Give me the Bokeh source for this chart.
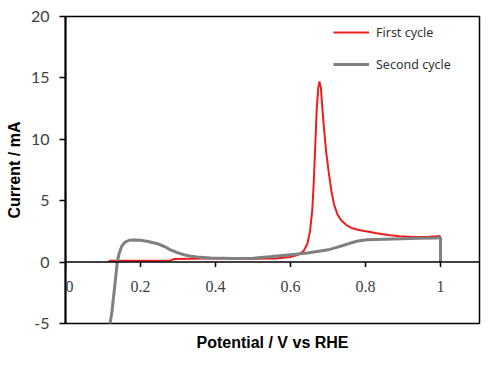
from bokeh.plotting import figure
from bokeh.models import Range1d, FixedTicker, Span, Legend, LegendItem, LabelSet, ColumnDataSource
from bokeh.embed import file_html
from bokeh.resources import INLINE
import math

# ---- data ----
first_x = [0.116, 0.118, 0.20, 0.28, 0.29, 0.38, 0.45, 0.50, 0.56, 0.60, 0.62, 0.635,
           0.645, 0.652, 0.658, 0.662, 0.666, 0.670, 0.674, 0.677, 0.681, 0.685, 0.689,
           0.695, 0.702, 0.709, 0.716, 0.725, 0.735, 0.750, 0.765, 0.785, 0.805, 0.83,
           0.86, 0.89, 0.93, 0.97, 0.99, 1.0]
first_y = [0.0, 0.12, 0.12, 0.14, 0.25, 0.30, 0.30, 0.27, 0.30, 0.42, 0.6, 0.9,
           1.5, 2.5, 4.2, 6.5, 9.5, 12.5, 14.2, 14.7, 14.2, 12.5, 11.0,
           9.0, 7.3, 5.8, 4.7, 3.9, 3.4, 3.0, 2.75, 2.6, 2.5, 2.35,
           2.2, 2.1, 2.05, 2.07, 2.1, 2.12]

second_x = [0.118, 0.124, 0.129, 0.134, 0.138, 0.143, 0.150, 0.158, 0.170, 0.185, 0.200,
            0.220, 0.245, 0.265, 0.28, 0.30, 0.316, 0.335, 0.351, 0.387, 0.45, 0.50,
            0.55, 0.60, 0.64, 0.671, 0.70, 0.716, 0.74, 0.76, 0.78, 0.804, 0.85, 0.90,
            0.94, 0.99, 1.0, 1.0]
second_y = [-5.2, -4.0, -2.6, -1.2, 0.0, 0.7, 1.3, 1.6, 1.78, 1.80, 1.78,
            1.68, 1.5, 1.25, 1.0, 0.75, 0.6, 0.48, 0.41, 0.33, 0.30, 0.32,
            0.45, 0.6, 0.72, 0.87, 1.0, 1.14, 1.35, 1.55, 1.72, 1.82, 1.87, 1.90,
            1.95, 1.97, 2.0, 0.0]

x_ticks = [0, 0.2, 0.4, 0.6, 0.8, 1.0]
x_tick_labels = ["0", "0.2", "0.4", "0.6", "0.8", "1"]
y_ticks = [-5, 0, 5, 10, 15, 20]
y_tick_labels = ["-5", "0", "5", "10", "15", "20"]

p = figure(width=484, height=353, output_backend="svg", toolbar_location=None,
           x_range=Range1d(0, 1.104), y_range=Range1d(-5, 20),
           min_border_left=65, min_border_right=5, min_border_top=16, min_border_bottom=29)
p.background_fill_color = "white"
p.border_fill_color = "white"
p.outline_line_color = "black"
p.outline_line_width = 1.5
p.grid.visible = False

# left axis
ya = p.yaxis[0]
ya.ticker = FixedTicker(ticks=y_ticks)
ya.major_label_overrides = {t: s for t, s in zip(y_ticks, y_tick_labels)}
ya.axis_line_color = "black"
ya.axis_line_width = 2
ya.major_tick_out = 6
ya.major_tick_in = 0
ya.major_tick_line_width = 1.5
ya.minor_tick_line_color = None
ya.major_label_text_font = "Lato"
ya.major_label_text_font_size = "16px"
ya.major_label_text_color = "#404040"
ya.major_label_standoff = 10
ya.axis_label = "Current / mA"
ya.axis_label_text_font = "Liberation Sans"
ya.axis_label_text_font_style = "bold"
ya.axis_label_text_font_size = "16px"
ya.axis_label_text_color = "black"
ya.axis_label_standoff = 5

# bottom axis (label only; the tick axis is drawn at y = 0)
xa = p.xaxis[0]
xa.ticker = FixedTicker(ticks=[])
xa.axis_line_color = None
xa.major_tick_out = 0
xa.major_tick_in = 0
xa.minor_tick_line_color = None
xa.major_label_text_font_size = "0px"
xa.major_label_standoff = 0
xa.axis_label = "Potential / V vs RHE"
xa.axis_label_text_font = "Liberation Sans"
xa.axis_label_text_font_style = "bold"
xa.axis_label_text_font_size = "16px"
xa.axis_label_text_color = "black"
xa.axis_label_standoff = 10

# axis at y = 0
p.add_layout(Span(location=0, dimension="width", line_color="black", line_width=1.5))
p.ray(x=x_ticks, y=[0] * len(x_ticks), length=5, length_units="screen",
      angle=-math.pi / 2, line_color="black", line_width=1.5)
label_shift = [4 if t == 0 else 0 for t in x_ticks]  # keep the "0" label clear of the frame clip
tick_src = ColumnDataSource(dict(x=x_ticks, y=[0] * len(x_ticks), text=x_tick_labels, dx=label_shift))
p.add_layout(LabelSet(x="x", y="y", text="text", source=tick_src, x_offset="dx", y_offset=-24,
                      text_align="center", text_baseline="middle", text_font="Lato",
                      text_font_size="16px", text_color="#404040"))

r1 = p.line(first_x, first_y, line_color="#ee1c1c", line_width=2)
r2 = p.line(second_x, second_y, line_color="#808080", line_width=3)

legend = Legend(items=[LegendItem(label="First cycle", renderers=[r1]),
                       LegendItem(label="Second cycle", renderers=[r2])],
                location=(268, 249), orientation="vertical")
legend.background_fill_alpha = 0
legend.border_line_color = None
legend.padding = 0
legend.margin = 0
legend.spacing = 12
legend.glyph_width = 36
legend.glyph_height = 20
legend.label_height = 20
legend.label_standoff = 7
legend.label_text_font = "Noto Sans"
legend.label_text_font_size = "12.5px"
legend.label_text_color = "#333333"
p.add_layout(legend, "center")

open("out.html", "w").write(file_html(p, INLINE))
